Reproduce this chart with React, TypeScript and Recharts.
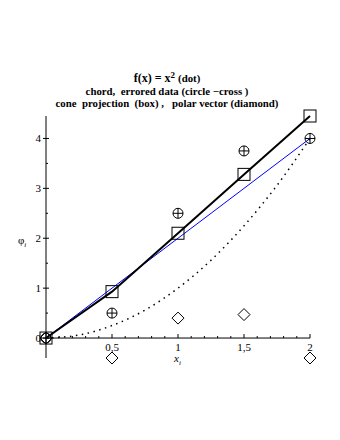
import { ComposedChart, Line, ReferenceLine, Scatter, XAxis, YAxis } from "recharts";

// f(x) = x^2
const curveX = [0, 0.25, 0.5, 0.75, 1, 1.25, 1.5, 1.75, 2];
const curveY = [0, 0.06, 0.25, 0.56, 1, 1.56, 2.25, 3.06, 4];

const chordX = [0, 2];
const chordY = [0, 4];

const sampleX = [0, 0.5, 1, 1.5, 2];
const erroredY = [0, 0.5, 2.5, 3.75, 4];
const boxY = [0, 0.93, 2.1, 3.28, 4.45];
const diamondY = [0, -0.4, 0.4, 0.47, -0.4];

const xTickValues = [0.5, 1, 1.5, 2];
const xTickLabels = ["0,5", "1", "1,5", "2"];
const xMinorTicks = [0.1, 0.2, 0.3, 0.4, 0.6, 0.7, 0.8, 0.9, 1.1, 1.2, 1.3, 1.4, 1.6, 1.7, 1.8, 1.9];
const yTickValues = [0, 1, 2, 3, 4];
const yMinorTicks = [0.5, 1.5, 2.5, 3.5];

const zip = (xs: number[], ys: number[]) => xs.map((x, i) => ({ x, y: ys[i] }));

const curve = zip(curveX, curveY);
const chord = zip(chordX, chordY);
const errored = zip(sampleX, erroredY);
const boxes = zip(sampleX, boxY);
const diamonds = zip(sampleX, diamondY);
const xMajor = xTickValues.map((x, i) => ({ x, y: 0, label: xTickLabels[i] }));
const xMinor = xMinorTicks.map((x) => ({ x, y: 0 }));
const yMajor = yTickValues.map((y) => ({ x: 0, y }));
const yMinor = yMinorTicks.map((y) => ({ x: 0, y }));

const serif = "'Liberation Serif', 'DejaVu Serif', serif";

function BoxMark({ cx, cy }: any) {
  return <rect x={cx - 6} y={cy - 6} width={12} height={12} fill="none" stroke="#000" strokeWidth={1} />;
}

function CircleCross({ cx, cy }: any) {
  return (
    <g stroke="#000" strokeWidth={1} fill="none">
      <circle cx={cx} cy={cy} r={5} />
      <line x1={cx - 5} y1={cy} x2={cx + 5} y2={cy} />
      <line x1={cx} y1={cy - 5} x2={cx} y2={cy + 5} />
    </g>
  );
}

function Diamond({ cx, cy }: any) {
  return (
    <path
      d={`M${cx},${cy - 6}L${cx + 6},${cy}L${cx},${cy + 6}L${cx - 6},${cy}Z`}
      fill="none"
      stroke="#000"
      strokeWidth={1}
    />
  );
}

function XMajorTick({ cx, cy, payload }: any) {
  return (
    <g>
      <line x1={cx} y1={cy} x2={cx} y2={cy - 4} stroke="#000" strokeWidth={1} />
      <text x={cx} y={cy + 13} textAnchor="middle" fontFamily={serif} fontSize={11} fill="#000">
        {payload.label}
      </text>
    </g>
  );
}

function XMinorTick({ cx, cy }: any) {
  return <line x1={cx} y1={cy} x2={cx} y2={cy - 2} stroke="#000" strokeWidth={1} />;
}

function YMajorTick({ cx, cy }: any) {
  return <line x1={cx - 3} y1={cy} x2={cx + 3} y2={cy} stroke="#000" strokeWidth={1} />;
}

function YMinorTick({ cx, cy }: any) {
  return <line x1={cx} y1={cy} x2={cx + 2} y2={cy} stroke="#000" strokeWidth={1} />;
}

function YTickLabel({ x, y, payload }: any) {
  return (
    <text x={x + 3} y={y + 4} textAnchor="end" fontFamily={serif} fontSize={11} fill="#000">
      {payload.value}
    </text>
  );
}

const titleStyle: React.CSSProperties = {
  position: "absolute",
  left: 0,
  width: 334,
  textAlign: "center",
  fontFamily: serif,
  fontWeight: "bold",
  fontSize: 10.8,
  whiteSpace: "pre",
  lineHeight: 1,
  color: "#000",
};

export default function App() {
  return (
    <div style={{ position: "absolute", left: 0, top: 0, width: 340, height: 440, background: "#fff" }}>
      <div style={{ ...titleStyle, top: 71, fontSize: 12 }}>
        f(x) = x<span style={{ fontSize: 9, verticalAlign: 4 }}>2</span>{" "}
        <span style={{ fontSize: 10.8 }}>(dot)</span>
      </div>
      <div style={{ ...titleStyle, top: 86 }}>chord,  errored data (circle −cross )</div>
      <div style={{ ...titleStyle, top: 98 }}>cone  projection  (box) ,   polar vector (diamond)</div>
      <svg width={340} height={440} style={{ position: "absolute", left: 0, top: 0, pointerEvents: "none" }}>
        <text x={18} y={244} fontFamily={serif} fontSize={11} fill="#000">
          φ
          <tspan fontSize={7} fontStyle="italic" dy={3}>
            i
          </tspan>
        </text>
        <text x={174} y={362} fontFamily={serif} fontSize={11} fontStyle="italic" fill="#000">
          x
          <tspan fontSize={7} dy={3}>
            i
          </tspan>
        </text>
      </svg>
      <ComposedChart width={340} height={440} margin={{ top: 116, right: 30, bottom: 82, left: 16 }}>
        <XAxis dataKey="x" type="number" domain={[0, 2]} hide />
        <YAxis
          dataKey="y"
          type="number"
          domain={[-0.4, 4.45]}
          ticks={yTickValues}
          width={30}
          axisLine={{ stroke: "#000", strokeWidth: 1 }}
          tickLine={false}
          tick={<YTickLabel />}
        />
        <ReferenceLine
          segment={[
            { x: 0, y: 0 },
            { x: 2, y: 0 },
          ]}
          stroke="#000"
          strokeWidth={1}
        />
        <Line
          data={curve}
          dataKey="y"
          type="monotone"
          stroke="#000"
          strokeWidth={1.5}
          strokeDasharray="1.5 4.5"
          dot={false}
          isAnimationActive={false}
        />
        <Line data={chord} dataKey="y" type="linear" stroke="#0000ff" strokeWidth={1} dot={false} isAnimationActive={false} />
        <Line data={boxes} dataKey="y" type="linear" stroke="#000" strokeWidth={2} dot={false} isAnimationActive={false} />
        <Scatter data={xMinor} dataKey="y" shape={<XMinorTick />} isAnimationActive={false} />
        <Scatter data={xMajor} dataKey="y" shape={<XMajorTick />} isAnimationActive={false} />
        <Scatter data={yMajor} dataKey="y" shape={<YMajorTick />} isAnimationActive={false} />
        <Scatter data={yMinor} dataKey="y" shape={<YMinorTick />} isAnimationActive={false} />
        <Scatter data={boxes} dataKey="y" shape={<BoxMark />} isAnimationActive={false} />
        <Scatter data={errored} dataKey="y" shape={<CircleCross />} isAnimationActive={false} />
        <Scatter data={diamonds} dataKey="y" shape={<Diamond />} isAnimationActive={false} />
      </ComposedChart>
    </div>
  );
}
